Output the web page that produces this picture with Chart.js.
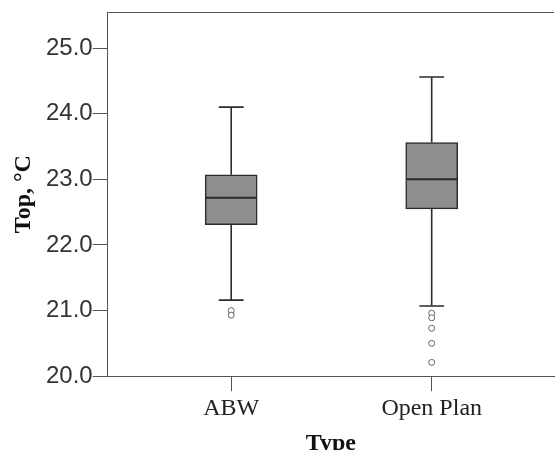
<!DOCTYPE html>
<html>

<head>
  <title>Top by Type</title>
  <script src="https://cdn.jsdelivr.net/npm/chart.js"></script>
  <style>
    body { margin: 0; background: #fff; }
    #wrap { width: 559px; height: 450px; }
  </style>
</head>

<body>
  <div id="wrap"><canvas id="myChart"></canvas></div>
  <script>
    // box plot values
    const types = ['ABW', 'Open Plan'];
    const whiskerLow = [21.16, 21.07];
    const q1 = [22.31, 22.55];
    const median = [22.72, 23.00];
    const q3 = [23.07, 23.56];
    const whiskerHigh = [24.10, 24.56];
    const outliersABW = [21.00, 20.93];
    const outliersOpen = [20.96, 20.89, 20.73, 20.50, 20.21];
    const yTicks = [20, 21, 22, 23, 24, 25];

    const BOX_HALF = 0.128;   // half box width in x units
    const CAP_HALF = 0.062;
    const lineCol = '#2b2b2b';

    // build segment datasets (y: null separates segments)
    const medianPts = [], whiskerPts = [], capPts = [];
    types.forEach((t, i) => {
      const x = i + 1;
      const gap = { x: x, y: null };
      medianPts.push({ x: x - BOX_HALF, y: median[i] }, { x: x + BOX_HALF, y: median[i] }, gap);
      whiskerPts.push({ x: x, y: q3[i] }, { x: x, y: whiskerHigh[i] }, gap);
      whiskerPts.push({ x: x, y: q1[i] }, { x: x, y: whiskerLow[i] }, gap);
      capPts.push({ x: x - CAP_HALF, y: whiskerHigh[i] }, { x: x + CAP_HALF, y: whiskerHigh[i] }, gap);
      capPts.push({ x: x - CAP_HALF, y: whiskerLow[i] }, { x: x + CAP_HALF, y: whiskerLow[i] }, gap);
    });
    const outlierPts = outliersABW.map(v => ({ x: 1, y: v }))
      .concat(outliersOpen.map(v => ({ x: 2, y: v })));

    const frame = {
      id: 'frame',
      afterDraw(chart) {
        const a = chart.chartArea, c = chart.ctx;
        c.save();
        c.strokeStyle = '#555';
        c.lineWidth = 1;
        c.beginPath();
        c.moveTo(a.left, a.top + 0.5);
        c.lineTo(a.right, a.top + 0.5);
        c.stroke();
        c.restore();
      }
    };

    const segLine = (data, order) => ({
      type: 'line', data, order, borderColor: lineCol, borderWidth: 1.6,
      pointRadius: 0, spanGaps: false, fill: false
    });

    const ctx = document.getElementById('myChart').getContext('2d');
    const myChart = new Chart(ctx, {
      data: {
        datasets: [
          segLine(whiskerPts, 4),
          segLine(capPts, 4),
          {
            type: 'bar',
            data: types.map((t, i) => ({ x: i + 1, y: [q1[i], q3[i]] })),
            backgroundColor: '#8e8e8e',
            borderColor: lineCol,
            borderWidth: 1.5,
            borderSkipped: false,
            barThickness: 52,
            order: 3
          },
          Object.assign(segLine(medianPts, 2), { borderWidth: 2 }),
          {
            type: 'scatter',
            data: outlierPts,
            pointStyle: 'circle',
            pointRadius: 3,
            pointBackgroundColor: '#fff',
            pointBorderColor: '#666',
            pointBorderWidth: 1,
            order: 1
          }
        ]
      },
      options: {
        responsive: true,
        maintainAspectRatio: false,
        animation: false,
        layout: { padding: { left: 12, top: 4, right: 0, bottom: -6 } },
        plugins: { legend: { display: false }, tooltip: { enabled: false } },
        scales: {
          x: {
            type: 'linear',
            offset: false,
            min: 0.384,
            max: 2.61,
            afterBuildTicks: s => { s.ticks = types.map((t, i) => ({ value: i + 1 })); },
            ticks: {
              callback: v => types[v - 1],
              font: { family: 'Liberation Serif', size: 24, lineHeight: 1.2 },
              color: '#222',
              padding: 3,
              maxRotation: 0
            },
            grid: { offset: false, drawOnChartArea: false, tickLength: 15, color: '#555' },
            border: { color: '#555', width: 1 },
            title: {
              display: true, text: 'Type',
              font: { family: 'Liberation Serif', size: 24, weight: 'bold', lineHeight: 1.0 },
              color: '#111', padding: { top: 6, bottom: 0 }
            }
          },
          y: {
            min: 20,
            max: 25.55,
            afterBuildTicks: s => { s.ticks = yTicks.map(v => ({ value: v })); },
            ticks: {
              callback: v => v.toFixed(1),
              font: { family: 'Liberation Sans', size: 24, lineHeight: 1.0 },
              color: '#333',
              padding: 0
            },
            grid: { drawOnChartArea: false, tickLength: 15, color: '#555' },
            border: { color: '#555', width: 1 },
            title: {
              display: true, text: 'Top, °C',
              font: { family: 'Liberation Serif', size: 24, weight: 'bold', lineHeight: 1.0 },
              color: '#111', padding: { top: 0, bottom: 10 }
            }
          }
        }
      },
      plugins: [frame]
    });
  </script>
</body>

</html>
